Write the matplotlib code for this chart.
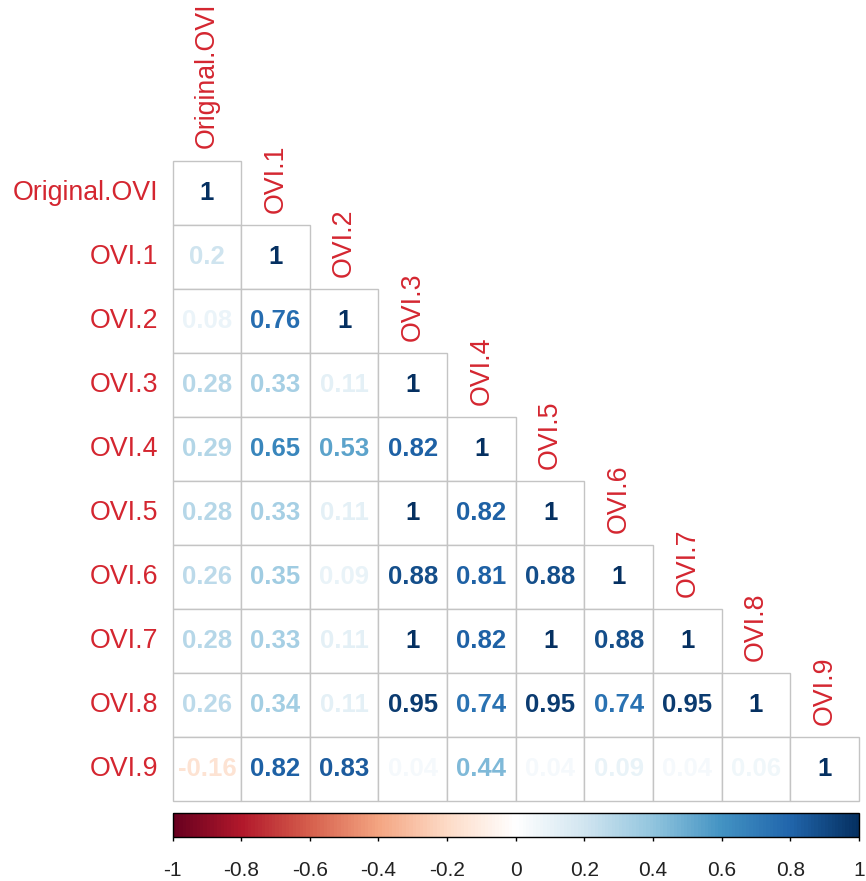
import matplotlib
matplotlib.use("Agg")
import matplotlib.pyplot as plt
from matplotlib.colors import LinearSegmentedColormap, Normalize
from matplotlib.cm import ScalarMappable
from matplotlib.patches import Rectangle
import numpy as np

labels = ["Original.OVI", "OVI.1", "OVI.2", "OVI.3", "OVI.4",
          "OVI.5", "OVI.6", "OVI.7", "OVI.8", "OVI.9"]

# lower triangle of the correlation matrix, row by row
corr_rows = [
    [1],
    [0.2, 1],
    [0.08, 0.76, 1],
    [0.28, 0.33, 0.11, 1],
    [0.29, 0.65, 0.53, 0.82, 1],
    [0.28, 0.33, 0.11, 1, 0.82, 1],
    [0.26, 0.35, 0.09, 0.88, 0.81, 0.88, 1],
    [0.28, 0.33, 0.11, 1, 0.82, 1, 0.88, 1],
    [0.26, 0.34, 0.11, 0.95, 0.74, 0.95, 0.74, 0.95, 1],
    [-0.16, 0.82, 0.83, 0.04, 0.44, 0.04, 0.09, 0.04, 0.06, 1],
]

cbar_ticks = [-1, -0.8, -0.6, -0.4, -0.2, 0, 0.2, 0.4, 0.6, 0.8, 1]

# corrplot's RdBu palette (white in the middle)
rdbu = ["#67001F", "#B2182B", "#D6604D", "#F4A582", "#FDDBC7", "#FFFFFF",
        "#D1E5F0", "#92C5DE", "#4393C3", "#2166AC", "#053061"]
cmap = LinearSegmentedColormap.from_list("corrRdBu", rdbu, N=200)
norm = Normalize(-1, 1)

plt.rcParams["font.family"] = ["Liberation Sans", "DejaVu Sans"]
label_col = "#D42630"
grid_col = "#C4C4C4"

W, H = 866, 881
fig = plt.figure(figsize=(W / 100, H / 100), dpi=100)

n = len(labels)
x0, x1 = 172.5, 859.0
y0, y1 = 160.5, 801.0
ax = fig.add_axes([x0 / W, 1 - y1 / H, (x1 - x0) / W, (y1 - y0) / H])
ax.set_xlim(0, n)
ax.set_ylim(n, 0)
ax.axis("off")

cell_w = (x1 - x0) / n
cell_h = (y1 - y0) / n

for i, row in enumerate(corr_rows):
    for j, v in enumerate(row):
        ax.add_patch(Rectangle((j, i), 1, 1, facecolor="white",
                               edgecolor=grid_col, linewidth=1.0, clip_on=False))
        ax.text(j + 0.5, i + 0.5, f"{v:g}", ha="center", va="center",
                fontsize=18.5, fontweight="bold", color=cmap(norm(v)))

for k, name in enumerate(labels):
    # row label on the left
    ax.text(-14.5 / cell_w, k + 0.5, name, ha="right", va="center",
            fontsize=19.3, color=label_col, clip_on=False)
    # column label above the diagonal cell
    ax.text(k + 0.5, k - 12 / cell_h, name, ha="center", va="bottom",
            rotation=90, fontsize=19.3, color=label_col, clip_on=False)

# colour legend
cb_top, cb_bot = 813.0, 837.0
cax = fig.add_axes([x0 / W, 1 - cb_bot / H, (x1 - x0) / W, (cb_bot - cb_top) / H])
cb = fig.colorbar(ScalarMappable(norm=norm, cmap=cmap), cax=cax,
                  orientation="horizontal", ticks=cbar_ticks)
cb.outline.set_linewidth(1.0)
cb.ax.set_xticklabels([f"{t:g}" for t in cbar_ticks])
cb.ax.tick_params(axis="x", direction="out", length=3, width=1,
                  pad=14, labelsize=15, labelcolor="#222222")

fig.savefig("out.png", dpi=100)
